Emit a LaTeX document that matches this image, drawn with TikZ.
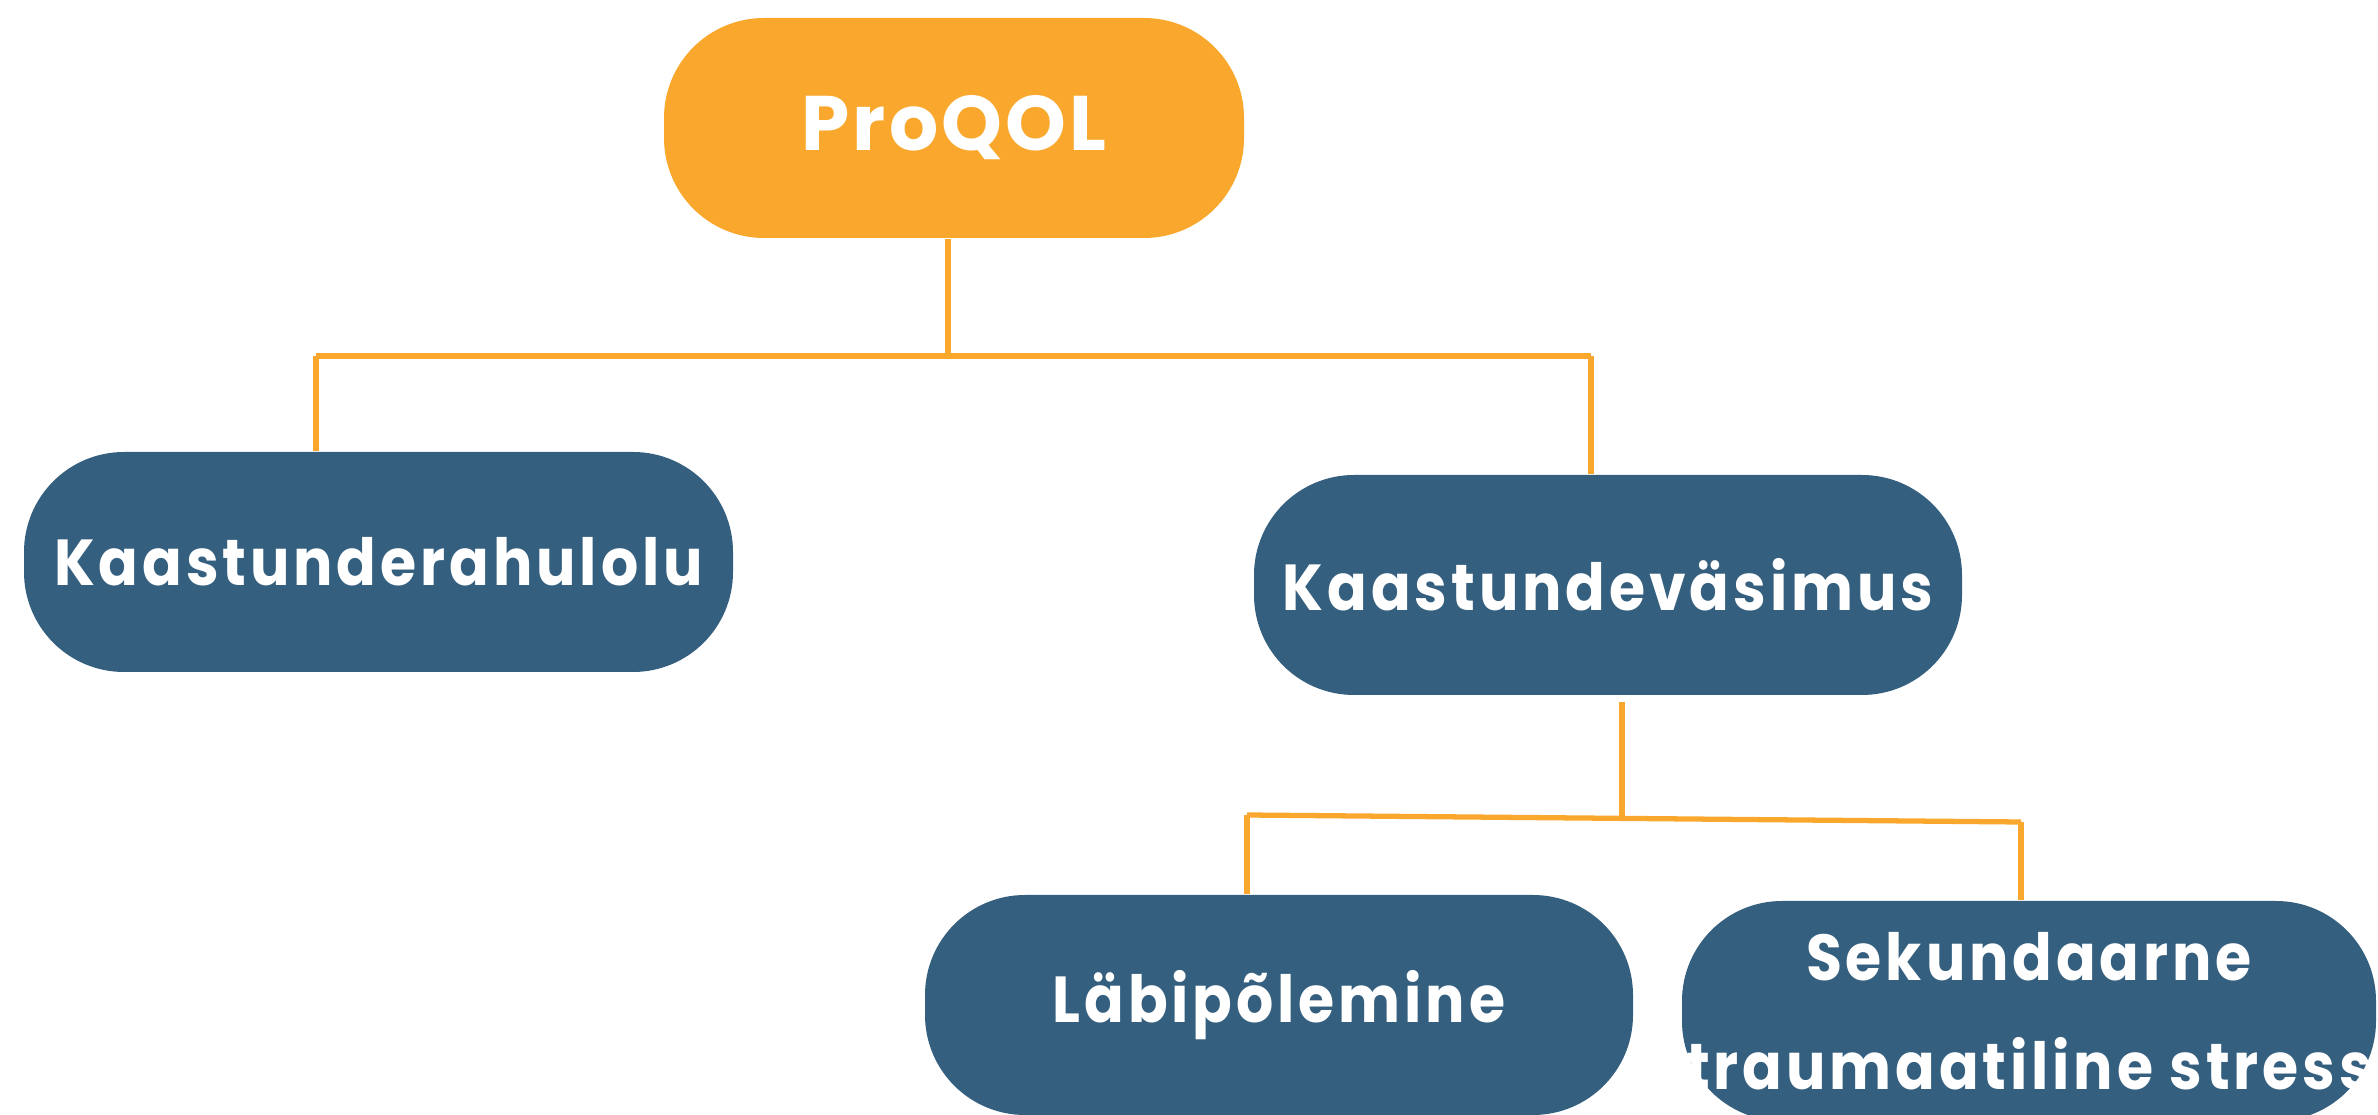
\documentclass[tikz,border=0pt]{standalone}
\usepackage{fontspec}
\setmainfont{Poppins}[LetterSpace=6,FakeStretch=0.9]
\newfontfamily\topfont{Poppins}[LetterSpace=4]
\usetikzlibrary{positioning}
\definecolor{proorange}{RGB}{249,168,45}
\definecolor{problue}{RGB}{53,95,126}

\begin{document}
\begin{tikzpicture}[
    box/.style={rounded corners=1cm,minimum height=2.2cm,inner sep=0pt,text=white,align=center,font=\bfseries\fontsize{18.5}{31}\selectfont},
    topbox/.style={box,fill=proorange,minimum width=5.8cm,font=\topfont\bfseries\fontsize{22}{27}\selectfont},
    subbox/.style={box,fill=problue,minimum width=7.08cm},
    link/.style={draw=proorange,line width=1.5pt}
  ]
\useasboundingbox (0,0) rectangle (23.78,-11.15);

\node(top)[topbox] at (9.54,-1.28) {ProQOL};
\node(rahul)[subbox,minimum width=7.09cm] at (3.785,-5.62) {Kaastunderahulolu};
\node(vasim)[subbox] at (16.08,-5.85) {Kaastundeväsimus};
\node(labip)[subbox] at (12.79,-10.05) {Läbipõlemine};
\node(sekund)[subbox,minimum width=6.94cm] at (20.29,-10.11) {Sekundaarne\\traumaatiline stress};

\coordinate (j0) at (9.48,-3.56);
\coordinate (lj) at (3.16,-3.56);
\coordinate (rj) at (15.91,-3.56);
\draw[link] (j0 |- top.south) -- (j0);
\draw[link] (lj) -- (rj);
\draw[link] (lj) -- (lj |- rahul.north);
\draw[link] (rj) -- (rj |- vasim.north);

\coordinate (j1) at (16.22,-8.17);
\coordinate (blj) at (12.47,-8.15);
\coordinate (brj) at (20.21,-8.22);
\draw[link] ([yshift=-0.06cm]j1 |- vasim.south) -- (j1);
\draw[link] (blj) -- (brj);
\draw[link] (blj) -- (blj |- labip.north);
\draw[link] (brj) -- (brj |- sekund.north);
\end{tikzpicture}
\end{document}
